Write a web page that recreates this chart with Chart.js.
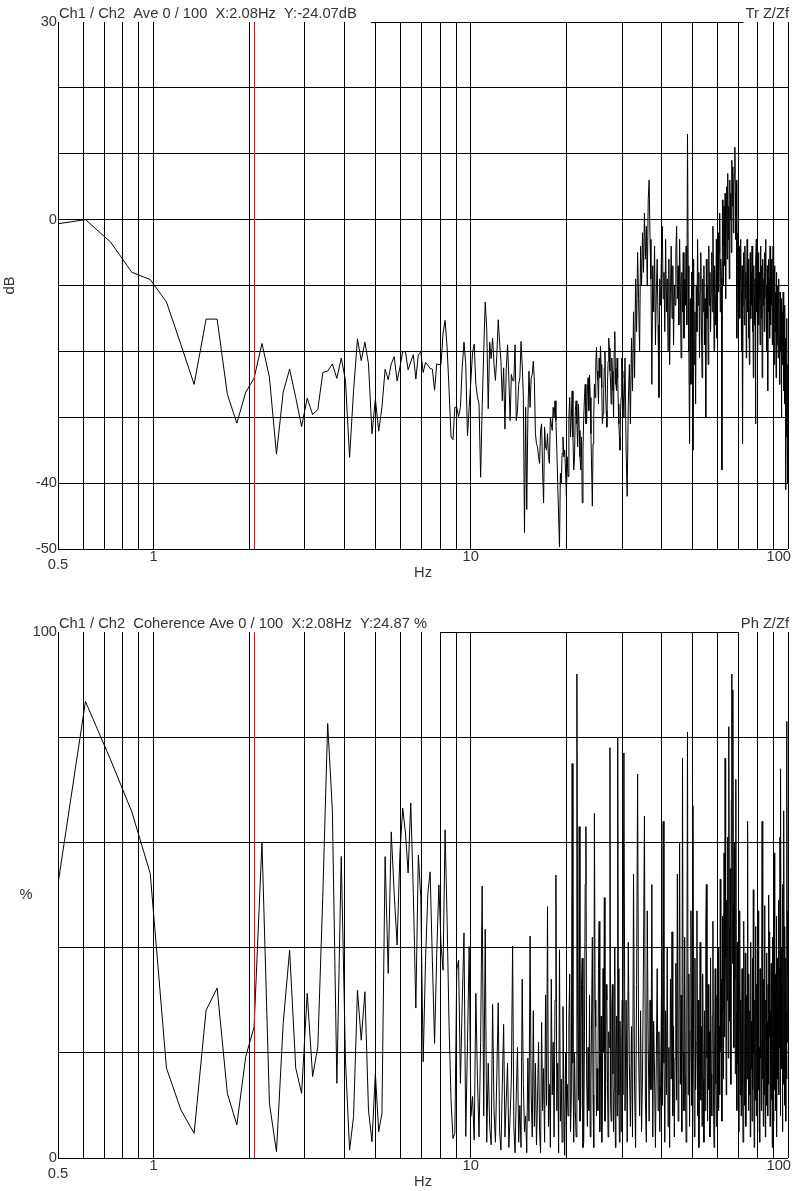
<!DOCTYPE html>
<html><head><meta charset="utf-8">
<script src="https://cdn.jsdelivr.net/npm/chart.js@4.4.1/dist/chart.umd.min.js"></script>
<style>
html,body{margin:0;padding:0;background:#fff;}
body{width:794px;height:1191px;position:relative;overflow:hidden;}
canvas{position:absolute;left:0;}
#c1{top:0;} #c2{top:600px;}
</style></head><body>
<canvas id="c1" width="794" height="600"></canvas>
<canvas id="c2" width="794" height="591"></canvas>
<script>
// ---- FFT bin spacing (Hz) and the bin segments ----
const DF = 0.1220703125;
const segStart = [4, 83, 165, 247];
const segStep  = [1, 1, 1, 2];

// ---- Transfer function magnitude (dB) ----
const trLow = [-0.7,0.0,-3.4,-8.0,-9.1,-12.5,-19.0,-25.0,-15.1,-15.1,
 -26.5,-30.9,-26.2,-24.07,-18.8,-23.9,-35.6,-26.2,-22.7,-27.0,
 -31.4,-27.1,-29.6,-28.8,-23.2,-23.0,-21.9,-24.1,-21.0,-24.4,
 -36.1,-25.9,-18.1,-21.4,-18.6,-21.9,-32.5,-27.2,-32.1,-28.5,
 -22.7,-24.3,-21.9,-20.8,-24.5,-22.4,-20.0,-20.1,-22.8,-21.6,
 -20.5,-24.2,-20.5,-20.1,-23.2,-21.7,-22.1,-22.6,-22.7,-25.9,
 -21.9,-22.0,-22.0,-17.3,-15.3,-19.4,-25.9,-33.0,-33.4,-28.5,
 -28.5,-29.9,-28.5,-22.4,-18.6,-21.9,-32.8,-28.5,-24.4];
const trMid = [-20.2,-18.9,-25.0,-26.9,-28.0,-39.1,-28.5,-20.0,-12.5,-16.6,
 -28.7,-18.6,-21.1,-18.0,-22.0,-24.4,-20.6,-15.2,-18.6,-21.5,
 -27.5,-22.5,-31.8,-22.6,-19.0,-24.0,-30.5,-23.5,-24.4,-24.5,
 -19.0,-30.5,-29.0,-25.0,-24.0,-18.5,-22.0,-26.9,-47.5,-28.5,
 -44.0,-30.0,-23.0,-28.5,-24.0,-23.5,-21.5,-24.5,-32.5,-34.0,
 -34.5,-36.0,-37.0,-32.0,-31.0,-38.0,-43.0,-31.5,-34.5,-35.0,
 -32.5,-36.0,-37.0,-30.0,-31.0,-32.0,-28.5,-30.0,-27.5,-30.5,
 -35.0,-40.0,-45.0,-49.7,-38.5,-40.0,-35.5,-33.0,-36.0,-35.0,
 -38.0,-42.0];
const trUpper = [-36,-39,-30,-27,-33,-30,-26,-33,-38,-36,
 -29,-27.5,-31,-34.5,-28,-32,-36,-38,-33,-43,
 -35,-30,-27,-25,-31,-30.5,-26,-24,-29,-23.6,
 -27,-32.5,-38,-43.5,-34,-30,-25,-27,-22,-19.4,
 -23,-24.4,-28,-21,-24,-19.2,-22,-25.5,-31,-29.5,
 -26,-22.5,-20,-26.5,-29,-31.5,-25,-21.5,-18,-19.5,
 -23,-24.5,-28,-21,-23,-26,-30,-20,-17,-22.5,
 -25,-26,-21,-24,-28,-31,-33,-35,-29,-27,
 -21,-23];
const trHigh = [-24,-30,-21,-35,-42,-28,-22,-31,-18,-26,
 -14,-24,-9,-17,-5,-12,-20,-4,-10,-2,
 -8,1,-6,-1,-10,3,6,-3,-9,-25,
 -7,-14,-4,-19,-11,-6,-16,-27,-9,-13,
 -5,-1,-12,-8,-17,-3,-14,-9,-20,-6,
 -22,-11,-4,-15,-7,-19,-10,-13,-5,-1,
 -12,-7,-16,-3,-10,-21,-8,-14,-5,-18,
 -9,-13,-4,-16,13,-7,-20,-34,-12,-25,
 -8,-18,-35,-6,-22,-14,-28,-10,-17,-3,
 -13,-8,-21,-11,-5,-16,-24,-9,-14,-7,
 -19,-12,-30,-6,-15,-10,-22,-4,-13,-8,
 -17,-11,-5,-14,-1,-9,-20,-7,-12,-16,
 -3,-18,-8,-2,-11,-5,1,-14,-6,-9,
 -38,3,-4,-10,2,-7,4,-12,-1,5,
 -6,7,-3,2,-9,6,0,4,-5,9,
 2,8,-2,5,7,11,4,-3,6,-18,
 -6,-2,-12,-8,-4,-15,-9,-3,-11,-20,
 -7,-34,-13,-5,-9,-16,-4,-12,-8,-21,
 -10,-3,-14,-6,-18,-9,-22,-11,-5,-15,
 -8,-13,-4,-17,-10,-24,-7,-12,-16,-9,
 -31,-6,-3,-14,-9,-20,-11,-5,-16,-8,
 -12,-19,-4,-10,-15,-7,-24,-11,-6,-13,
 -9,-17,-5,-12,-8,-3,-15,-10,-20,-7,
 -26,-11,-6,-14,-9,-18,-4,-12,-16,-8,
 -13,-6,-19,-10,-4,-15,-9,-22,-12,-7,
 -17,-11,-24,-8,-14,-19,-10,-16,-21,-9,
 -13,-18,-25,-11,-15,-20,-12,-30,-17,-22,
 -14,-19,-11,-26,-16,-21,-13,-28,-18,-41,
 -20,-33,-15,-27,-36,-22,-40];

// ---- Coherence (%) ----
const cohLow = [48,86.8,75.7,65.8,54.1,17.1,9.1,4.7,28.1,32.3,
 12.3,6.3,19.3,24.87,60.1,10.4,1.2,25.6,39.5,17.1,
 12.3,31.3,15.5,21.2,50,82.6,66.2,14.2,57.3,18.6,
 1.5,7.9,31.9,22.4,31.6,9.1,3.1,16.1,5.0,8.5,
 57.3,35.1,62.0,50.3,40.5,58.0,66.5,61.8,54.2,67.5,
 50.3,28.5,57.6,49.7,18.3,37.6,50.3,54.4,37.6,21.8,
 38.9,51.9,40.8,35.7,62.4,45.2,25.0,11.0,3.7,4.8,
 35.7,37.6,14.2,29.4,42.8,4.1,21.8,40.2,7.9];
const cohMid = [11.7,3.4,31.3,15.0,4.0,22.0,51.7,8.0,43.5,3.0,
 18.0,6.0,2.5,29.2,9.0,3.0,16.0,29.5,5.0,1.5,
 14.0,25.4,4.0,11.0,18.0,2.0,8.0,15.0,40.3,6.0,
 1.0,12.0,21.0,3.0,10.0,2.0,34.0,14.0,5.0,8.0,
 1.0,19.0,7.0,42.2,12.0,4.0,28.0,6.0,18.0,2.5,
 11.0,22.0,5.0,1.0,25.8,9.0,17.0,3.0,31.0,10.0,
 47.8,6.0,14.0,2.0,34.0,12.0,22.0,4.0,30.0,53.8,
 9.0,18.0,1.0,39.6,7.0,15.0,3.0,28.8,11.0,0.5,
 20.0,6.0];
const cohUpper = [14,8,26,35,5,12,75,18,3,20,
 9,4,92,27,11,63,7,10,33,38,
 2,3,24,52,63,15,6,21,9,31,
 4,14,28,42,12,2,65.5,30,25,8,
 17,9,36,45,5,18,27,3,11,36,
 20,49.5,7,11,33,30,14,4,24,21,
 78,10,7,29,33,16,5,13,40,2,
 19,27,8,80,36,12,3,26,15,5,
 22,30];
const cohHigh = [12,77,9,30,3,41,18,6,25,4,
 54,14,2,33,73,20,8,28,5,16,
 38,65,11,3,47,22,7,30,13,52,
 4,26,16,2,19,36,9,24,5,14,
 31,10,64,18,3,28,12,40,6,21,
 2,34,15,43,8,25,4,19,37,11,
 54,7,23,60,14,31,5,76,20,9,
 42,16,3,27,81,12,35,6,24,47,
 10,29,67,18,4,38,13,22,47,8,
 30,2,17,41,11,25,6,35,15,3,
 28,9,44,52,19,7,33,13,24,4,
 38,16,8,27,45,11,2,22,36,14,
 6,31,18,40,9,25,12,53,20,34,
 7,46,28,15,58,23,76,38,12,49,
 30,61,19,82,44,26,55,14,68,92,
 37,89,48,21,60,34,16,72,28,9,
 41,18,33,5,25,47,12,30,8,22,
 36,14,3,27,45,10,24,39,6,18,
 31,15,64,22,9,35,12,28,4,41,
 17,26,7,38,13,51,20,2,30,11,
 24,44,8,33,16,5,28,47,13,21,
 3,36,19,29,9,40,64,15,25,6,
 34,12,48,21,4,30,17,39,10,26,
 8,33,14,50,23,43,6,28,18,37,
 11,25,2,42,16,31,7,58,20,13,
 35,9,27,46,4,22,38,15,29,49,
 12,36,21,61,8,74,26,40,17,33,
 5,52,24,14,66,30,10,44,19,38,
 7,28,15,83,22,47,35];

// ---- axes / labels ----
const xGrid = [0.5,0.6,0.7,0.8,0.9,1,2,3,4,5,6,7,8,9,10,20,30,40,50,60,70,80,90,100];
const xTickValues = [0.5, 1, 10, 100];
const xTickLabels = ['0.5', '1', '10', '100'];
const dbGrid = [-50,-40,-30,-20,-10,0,10,20,30];
const dbLabels = [30, 0, -40, -50];
const pctGrid = [0,20,40,60,80,100];
const pctLabels = [100, 0];
const cursorHz = 2.08;
const header1 = 'Ch1 / Ch2  Ave 0 / 100  X:2.08Hz  Y:-24.07dB';
const right1 = 'Tr Z/Zf';
const header2 = 'Ch1 / Ch2  Coherence Ave 0 / 100  X:2.08Hz  Y:24.87 %';
const right2 = 'Ph Z/Zf';

function buildPoints(segs) {
  const pts = [];
  segs.forEach((vals, s) => {
    vals.forEach((v, i) => pts.push({x: (segStart[s] + i * segStep[s]) * DF, y: v}));
  });
  return pts;
}

const FONT = '14.7px "Liberation Sans", Arial, sans-serif';
const TEXT = '#333333';

const annotate = {
  id: 'annotate',
  afterDatasetsDraw(chart) {
    const o = chart.options.plugins.annotate;
    const {ctx, chartArea: a, scales} = chart;
    const px = Math.round(scales.x.getPixelForValue(o.cursor)) + 0.5;
    ctx.save();
    ctx.strokeStyle = '#ff0000'; ctx.lineWidth = 1;
    ctx.beginPath(); ctx.moveTo(px, a.top); ctx.lineTo(px, a.bottom); ctx.stroke();
    ctx.restore();
  },
  afterDraw(chart) {
    const o = chart.options.plugins.annotate;
    const {ctx, chartArea: a, scales: {x, y}} = chart;
    ctx.save();
    ctx.font = FONT; ctx.fillStyle = TEXT;
    ctx.textBaseline = 'alphabetic'; ctx.textAlign = 'left';
    ctx.fillText(o.header, a.left + 1, a.top - 4);
    const hw = ctx.measureText(o.header).width;
    ctx.textAlign = 'right';
    ctx.fillText(o.right, a.right + 1, a.top - 4);
    const rw = ctx.measureText(o.right).width;
    ctx.strokeStyle = '#000'; ctx.lineWidth = 1;
    const ty = Math.round(a.top) + 0.5;
    ctx.beginPath(); ctx.moveTo(a.left + 1 + hw + 14, ty); ctx.lineTo(a.right - rw - 1, ty); ctx.stroke();
    // y labels
    ctx.textAlign = 'right'; ctx.textBaseline = 'middle';
    o.yLabels.forEach(v => ctx.fillText(String(v), a.left - 1, y.getPixelForValue(v)));
    // x labels
    xTickValues.forEach((v, i) => {
      const px = x.getPixelForValue(v);
      if (i === 0) { ctx.textAlign = 'center'; ctx.fillText(xTickLabels[i], px, a.bottom + 16); }
      else if (i === xTickValues.length - 1) { ctx.textAlign = 'right'; ctx.fillText(xTickLabels[i], px + 3, a.bottom + 8); }
      else { ctx.textAlign = 'center'; ctx.fillText(xTickLabels[i], px, a.bottom + 8); }
    });
    ctx.textAlign = 'center';
    ctx.fillText('Hz', (a.left + a.right) / 2, a.bottom + 24);
    // y title
    const cy = (a.top + a.bottom) / 2;
    if (o.rotateTitle) {
      ctx.translate(10, cy); ctx.rotate(-Math.PI / 2);
      ctx.fillText(o.yTitle, 0, 0);
    } else {
      ctx.fillText(o.yTitle, 26, cy);
    }
    ctx.restore();
  }
};

function makeChart(id, points, yGrid, yLabels, header, right, yTitle, rotateTitle, pad) {
  const yMin = yGrid[0], yMax = yGrid[yGrid.length - 1];
  return new Chart(document.getElementById(id), {
    type: 'scatter',
    data: { datasets: [{ data: points, showLine: true, borderColor: '#000000', borderWidth: 1,
      pointRadius: 0, pointHoverRadius: 0, tension: 0, fill: false }] },
    options: {
      responsive: false, animation: false, devicePixelRatio: 1,
      layout: { padding: pad },
      plugins: { legend: { display: false }, tooltip: { enabled: false },
        annotate: { cursor: cursorHz, header, right, yLabels, yTitle, rotateTitle } },
      scales: {
        x: { type: 'logarithmic', min: 0.5, max: 100,
          afterBuildTicks: s => { s.ticks = xGrid.map(v => ({ value: v })); },
          afterFit: s => { s.height = 0; },
          ticks: { display: false }, border: { display: false },
          grid: { color: '#000000', lineWidth: 1, drawTicks: false } },
        y: { type: 'linear', min: yMin, max: yMax,
          afterBuildTicks: s => { s.ticks = yGrid.map(v => ({ value: v })); },
          afterFit: s => { s.width = 0; },
          ticks: { display: false }, border: { display: false },
          grid: { color: c => (c.tick && c.tick.value === yMax) ? 'rgba(0,0,0,0)' : '#000000',
            lineWidth: 1, drawTicks: false } }
      }
    },
    plugins: [annotate]
  });
}

makeChart('c1', buildPoints([trLow, trMid, trUpper, trHigh]), dbGrid, dbLabels,
  header1, right1, 'dB', true, { left: 58, right: 6, top: 22, bottom: 51 });
makeChart('c2', buildPoints([cohLow, cohMid, cohUpper, cohHigh]), pctGrid, pctLabels,
  header2, right2, '%', false, { left: 58, right: 6, top: 32, bottom: 33 });
</script></body></html>
